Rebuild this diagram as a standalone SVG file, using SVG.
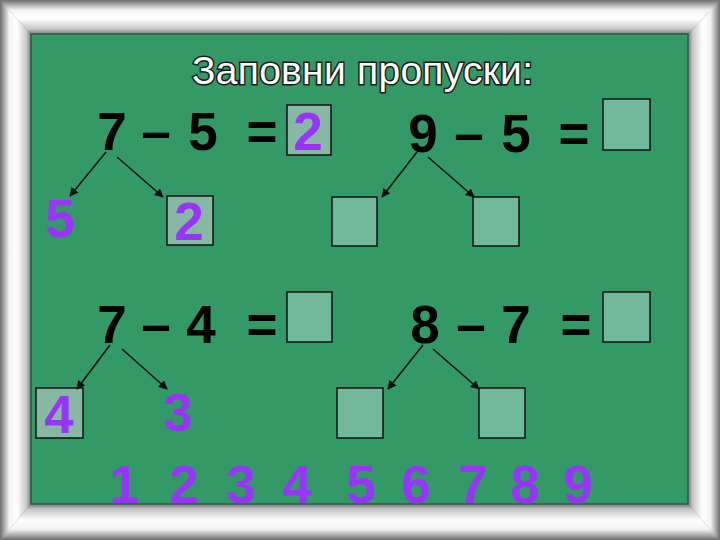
<svg xmlns="http://www.w3.org/2000/svg" width="720" height="540" viewBox="0 0 720 540">
<style>
.eq{font-family:"Liberation Sans",Arial,sans-serif;font-weight:bold;font-size:53px;fill:#000;text-anchor:middle}
.pu{font-family:"Liberation Sans",Arial,sans-serif;font-weight:bold;font-size:53px;fill:#9933ff;text-anchor:middle}
.box{fill:#72b89a;stroke:#111;stroke-width:1.5}
.boxf{fill:#86b8a4;stroke:#111;stroke-width:1.5}
.con{stroke:#111;stroke-width:1.5;fill:none;marker-end:url(#ah)}
.title{font-family:"Liberation Sans",Arial,sans-serif;font-size:39px;fill:#fff;stroke:#1a1a1a;stroke-width:3;paint-order:stroke}
</style>
<defs>
<marker id="ah" viewBox="0 0 10 10" refX="9" refY="5" markerWidth="6" markerHeight="6" orient="auto" markerUnits="strokeWidth">
<path d="M0,0 L10,5 L0,10 z" fill="#111"/>
</marker>
<linearGradient id="gT" x1="0" y1="0" x2="0" y2="1">
<stop offset="0" stop-color="#6e6e6e"/><stop offset="0.3" stop-color="#f4f4f4"/><stop offset="0.55" stop-color="#ffffff"/><stop offset="0.85" stop-color="#c8c8c8"/><stop offset="1" stop-color="#7a7a7a"/>
</linearGradient>
<linearGradient id="gL" x1="0" y1="0" x2="1" y2="0">
<stop offset="0" stop-color="#6e6e6e"/><stop offset="0.3" stop-color="#f4f4f4"/><stop offset="0.55" stop-color="#ffffff"/><stop offset="0.85" stop-color="#c8c8c8"/><stop offset="1" stop-color="#7a7a7a"/>
</linearGradient>
<linearGradient id="gR" x1="1" y1="0" x2="0" y2="0">
<stop offset="0" stop-color="#6e6e6e"/><stop offset="0.3" stop-color="#f4f4f4"/><stop offset="0.55" stop-color="#ffffff"/><stop offset="0.85" stop-color="#c8c8c8"/><stop offset="1" stop-color="#7a7a7a"/>
</linearGradient>
<linearGradient id="gB" x1="0" y1="1" x2="0" y2="0">
<stop offset="0" stop-color="#6e6e6e"/><stop offset="0.3" stop-color="#f4f4f4"/><stop offset="0.55" stop-color="#ffffff"/><stop offset="0.85" stop-color="#c8c8c8"/><stop offset="1" stop-color="#7a7a7a"/>
</linearGradient>
</defs>

<g id="frame">
<rect x="0" y="0" width="720" height="540" fill="#888"/>
<polygon points="0,0 720,0 688,34 31,34" fill="url(#gT)"/>
<polygon points="0,0 31,34 31,504 0,540" fill="url(#gL)"/>
<polygon points="720,0 720,540 688,504 688,34" fill="url(#gR)"/>
<polygon points="0,540 31,504 688,504 720,540" fill="url(#gB)"/>
<rect x="31" y="34" width="657" height="470" fill="#339966" stroke="#2a5c44" stroke-width="1.5"/>
</g>

<g id="title">
<text class="title" x="192" y="84" textLength="341" lengthAdjust="spacing">Заповни пропуски:</text>
</g>

<g id="eq1">
<text class="eq" x="112" y="150">7</text>
<text class="eq" x="156" y="150">–</text>
<text class="eq" x="203" y="150">5</text>
<text class="eq" x="262" y="150">=</text>
<rect class="boxf" x="287" y="105" width="44" height="50"/>
<text class="pu" x="308" y="150">2</text>
</g>
<g id="eq1-left"><text class="pu" x="60" y="237">5</text></g>
<g id="eq1-right">
<rect class="boxf" x="167" y="196" width="46" height="49"/>
<text class="pu" x="189" y="240">2</text>
</g>

<g id="eq2">
<text class="eq" x="423" y="152">9</text>
<text class="eq" x="469" y="152">–</text>
<text class="eq" x="516" y="152">5</text>
<text class="eq" x="574" y="152">=</text>
<rect class="box" x="603" y="99" width="47" height="51"/>
</g>
<g id="eq2-left"><rect class="box" x="332" y="197" width="45" height="49"/></g>
<g id="eq2-right"><rect class="box" x="473" y="197" width="46" height="49"/></g>

<g id="eq3">
<text class="eq" x="112" y="343">7</text>
<text class="eq" x="156" y="343">–</text>
<text class="eq" x="201" y="343">4</text>
<text class="eq" x="262" y="343">=</text>
<rect class="box" x="287" y="292" width="45" height="50"/>
</g>
<g id="eq3-left">
<rect class="boxf" x="36" y="388" width="47" height="50"/>
<text class="pu" x="59" y="433">4</text>
</g>
<g id="eq3-right"><text class="pu" x="178" y="431">3</text></g>

<g id="eq4">
<text class="eq" x="425" y="343">8</text>
<text class="eq" x="471" y="343">–</text>
<text class="eq" x="516" y="343">7</text>
<text class="eq" x="576" y="343">=</text>
<rect class="box" x="603" y="292" width="47" height="50"/>
</g>
<g id="eq4-left"><rect class="box" x="337" y="388" width="46" height="50"/></g>
<g id="eq4-right"><rect class="box" x="479" y="388" width="46" height="50"/></g>

<g id="connectors">
<line class="con" x1="106" y1="152" x2="70" y2="196"/>
<line class="con" x1="117" y1="157" x2="163" y2="197"/>
<line class="con" x1="417" y1="152" x2="382" y2="197"/>
<line class="con" x1="428" y1="157" x2="474" y2="197"/>
<line class="con" x1="110" y1="345" x2="77" y2="389"/>
<line class="con" x1="122" y1="349" x2="167" y2="389"/>
<line class="con" x1="423" y1="345" x2="388" y2="389"/>
<line class="con" x1="433" y1="349" x2="479" y2="389"/>
</g>

<g id="number-line">
<text class="pu" x="124" y="503">1</text>
<text class="pu" x="184" y="503">2</text>
<text class="pu" x="241" y="503">3</text>
<text class="pu" x="297" y="503">4</text>
<text class="pu" x="361" y="503">5</text>
<text class="pu" x="416" y="503">6</text>
<text class="pu" x="473" y="503">7</text>
<text class="pu" x="525" y="503">8</text>
<text class="pu" x="578" y="503">9</text>
</g>
</svg>
